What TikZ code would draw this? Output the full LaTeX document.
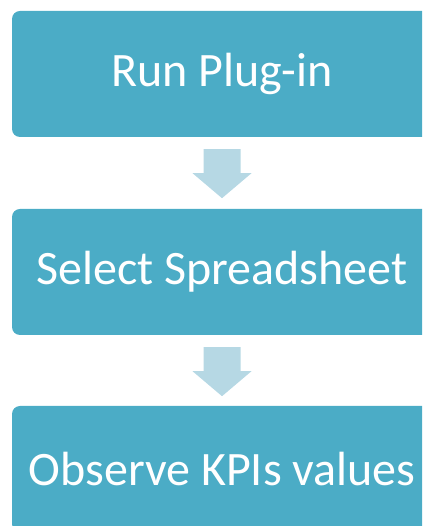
\documentclass[tikz,border=0pt]{standalone}
\usepackage{fontspec}
\setmainfont{Carlito}
\usetikzlibrary{positioning}
\definecolor{boxblu}{HTML}{4BACC6}
\definecolor{frecciablu}{HTML}{B6D8E4}
\tikzset{
  passo/.style={fill=boxblu, rounded corners=8pt, minimum width=420pt, minimum height=126pt,
                inner sep=0pt, text=white, font=\fontsize{48}{58}\selectfont},
  freccia/.style={fill=frecciablu}
}
\begin{document}
\begin{tikzpicture}[x=1pt,y=1pt]
    \useasboundingbox (0,0) rectangle (422,526);
    \clip (0,0) rectangle (422,526);
    %passi
    \node[passo] (run) at (222,452) {Run Plug-in};
    \node[passo] (sel) at (222,254) {Select Spreadsheet};
    \node[passo] (obs) at (222,57) {Observe KPIs values};
    %frecce
    \fill[freccia]([shift={(-18.5pt,-12pt)}]run.south)--++(37,0)--++(0,-24)--++(11,0)
                  --++(-29.5,-25)--++(-29.5,25)--++(11,0)--cycle;
    \fill[freccia]([shift={(-18.5pt,-12pt)}]sel.south)--++(37,0)--++(0,-24)--++(11,0)
                  --++(-29.5,-25)--++(-29.5,25)--++(11,0)--cycle;
\end{tikzpicture}
\end{document}
